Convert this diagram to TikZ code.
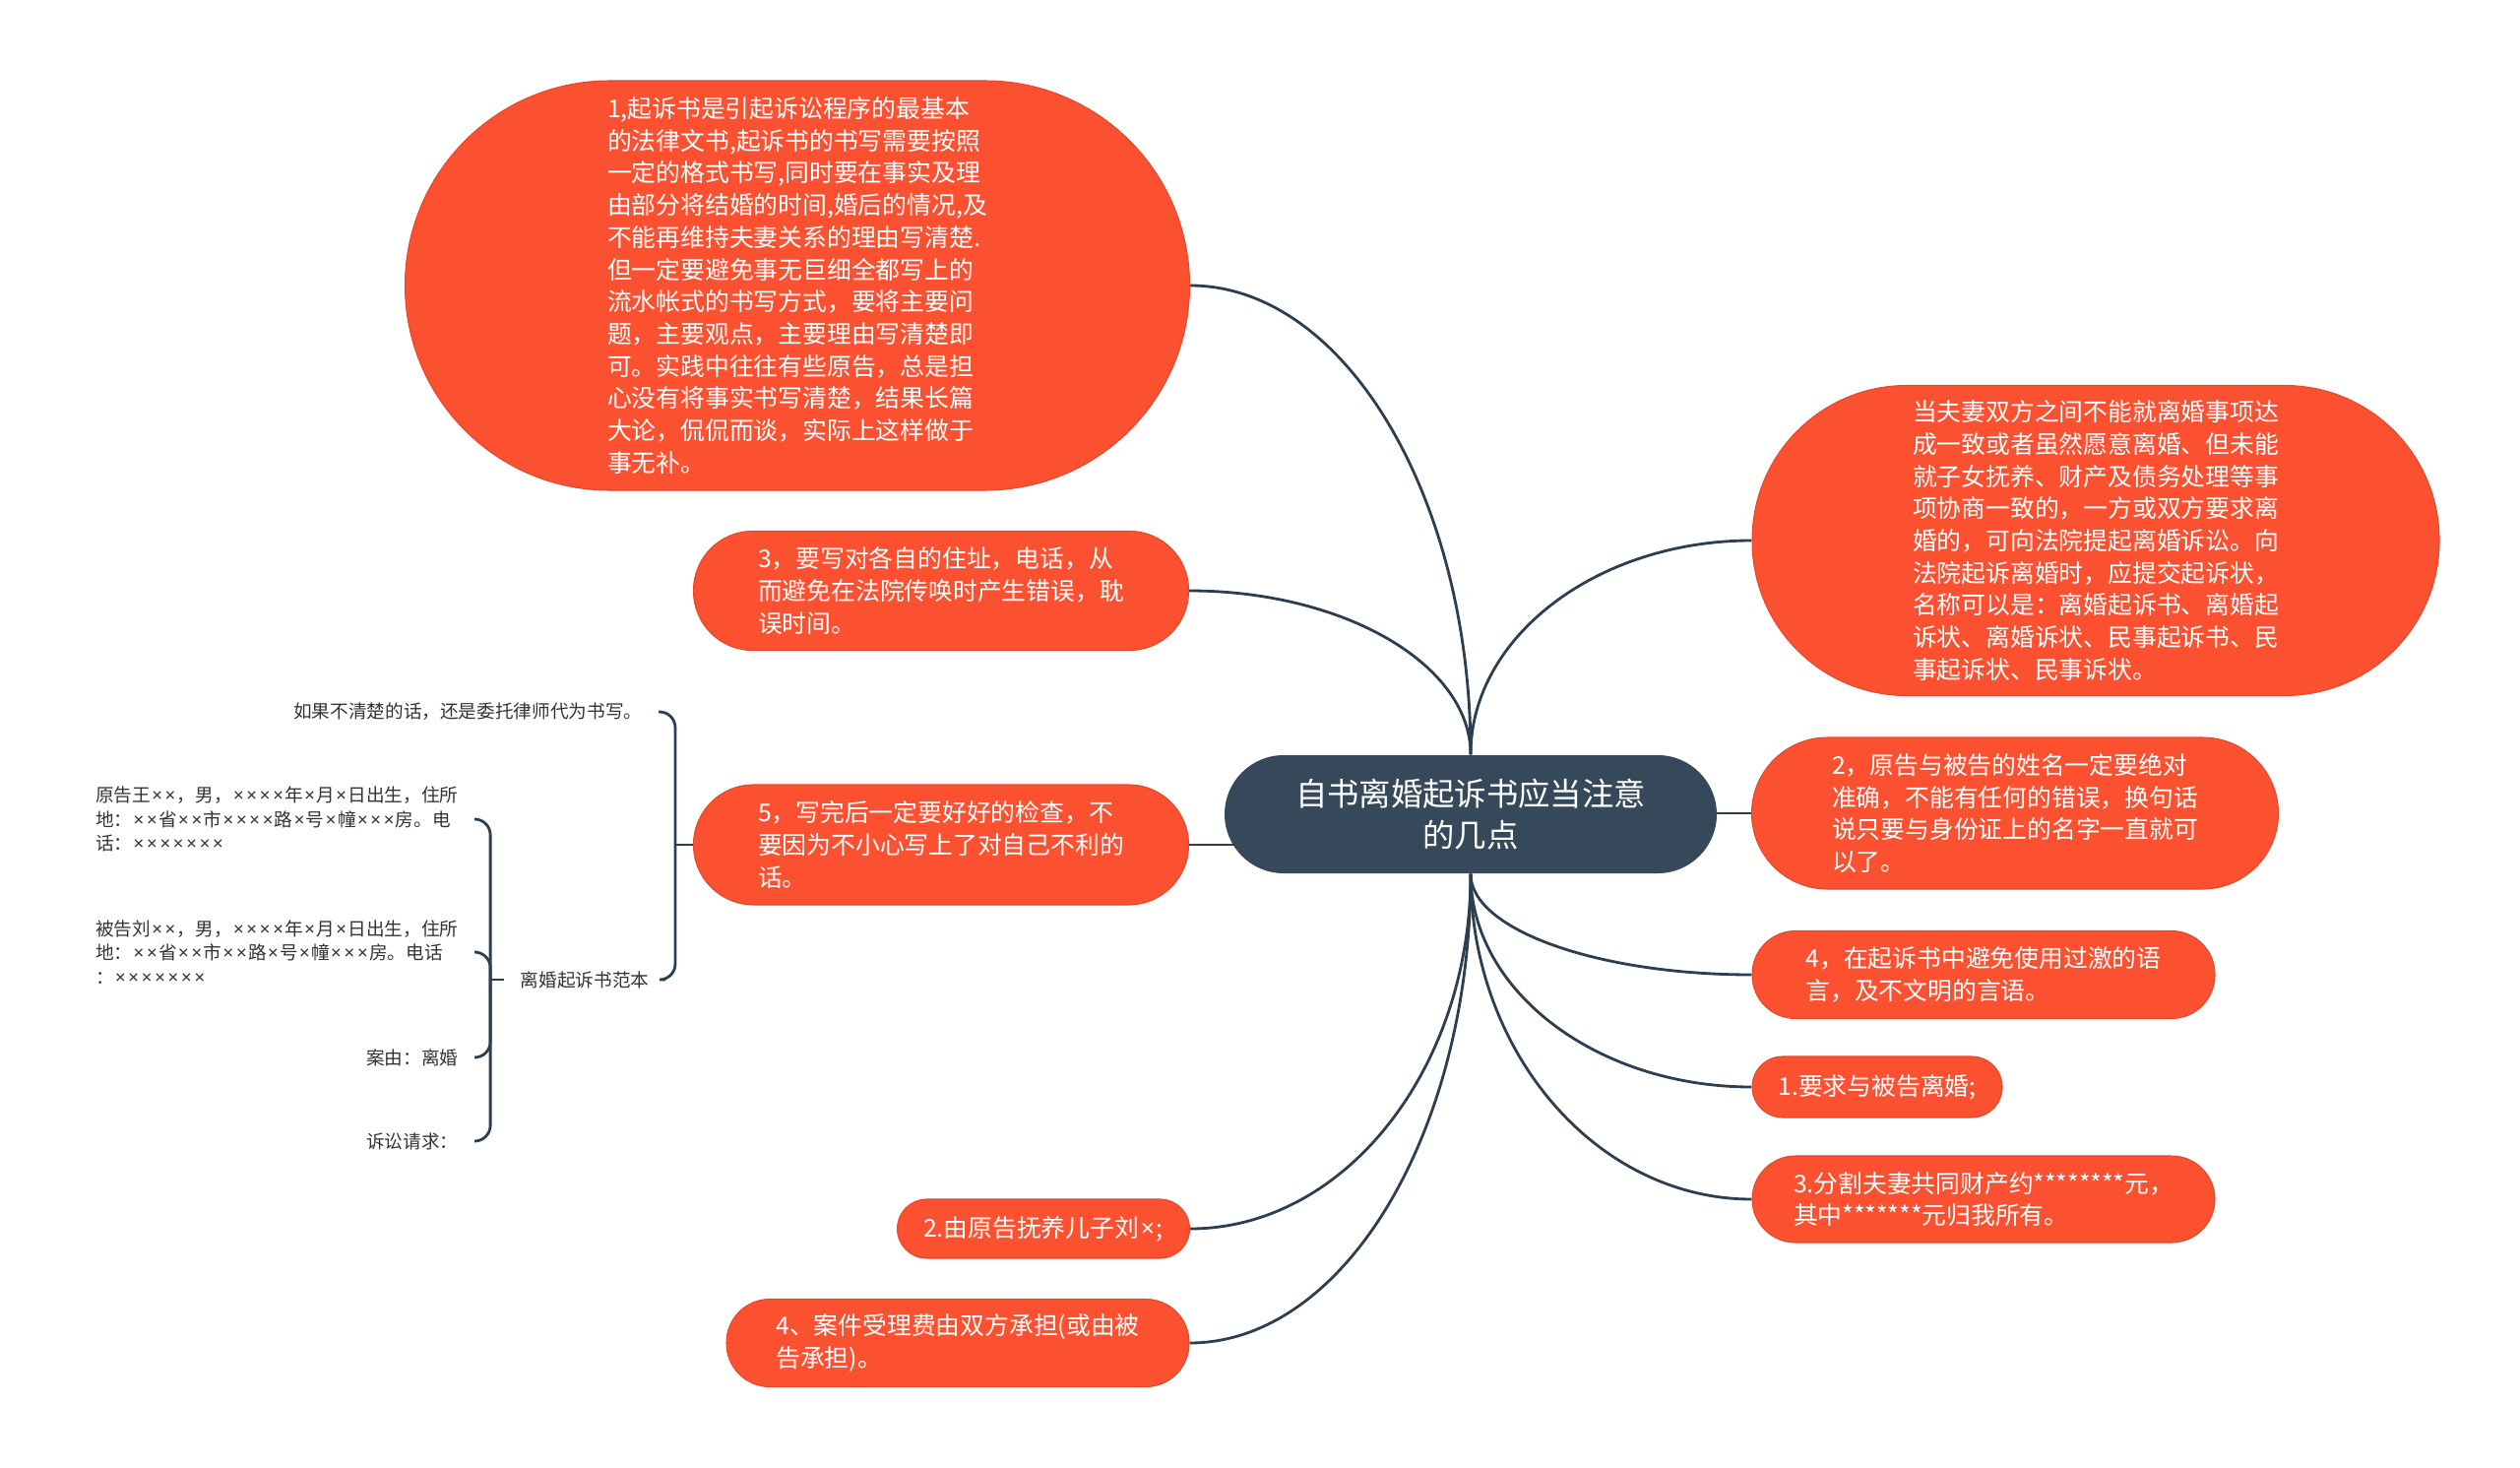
\documentclass[tikz,border=0pt]{standalone}
\usepackage{fontspec}
\setmainfont{Noto Sans CJK SC}
\newfontfamily\latinfont{Noto Sans}
\usepackage{tikz}
\usetikzlibrary{calc,positioning}
\newdimen\px
\px=0.01cm
\newcommand\tms{\hbox to .72em{\hss\latinfont ×\hss}}
\definecolor{topicfill}{HTML}{FC5130}
\definecolor{topicline}{HTML}{E4472A}
\definecolor{rootfill}{HTML}{36495B}
\definecolor{linecol}{HTML}{2C3E50}
\definecolor{leafcol}{HTML}{333333}
\pgfdeclarelayer{bg}
\pgfsetlayers{bg,main}
\tikzstyle{root}=[
  fill=rootfill,
  text=white,
  font={\fontsize{9.2pt}{12pt}\selectfont},
  align=center,
  inner sep=0pt,
  minimum width=500\px,
  minimum height=120\px,
  rounded corners=60\px,
]
\tikzstyle{topic}=[
  fill=topicfill,
  draw=topicline,
  line width=0.3pt,
  text=white,
  font={\fontsize{7.05pt}{9.3pt}\selectfont},
  align=left,
  inner sep=0pt,
]
\tikzstyle{leaf}=[
  text=leafcol,
  font={\fontsize{5.3pt}{7pt}\selectfont},
  align=left,
  anchor=east,
  inner xsep=16\px,
  inner ysep=2\px,
]
\tikzstyle{branch}=[
  draw=linecol,
  line width=0.8pt,
]
\tikzstyle{brace}=[
  draw=linecol,
  line width=0.8pt,
  rounded corners=16\px,
]
\tikzset{
  x=0.01cm,
  y=-0.01cm,
  sweep/.style={to path={.. controls ($(\tikztostart)!.55!(\tikztostart|-\tikztotarget)$)
    and ($(\tikztotarget)!.55!(\tikztostart|-\tikztotarget)$) .. (\tikztotarget)}},
}
\begin{document}
\begin{tikzpicture}
  \useasboundingbox (0,0) rectangle (2560,1491);
  \node (root) [root] at (1494,827) {自书离婚起诉书应当注意\\的几点};
  %%
  \node (law) [topic, minimum width=797\px, minimum height=416\px, rounded corners=208\px] at (810,290)
    {1,起诉书是引起诉讼程序的最基本\\的法律文书,起诉书的书写需要按照\\一定的格式书写,同时要在事实及理\\由部分将结婚的时间,婚后的情况,及\\不能再维持夫妻关系的理由写清楚.\\但一定要避免事无巨细全都写上的\\流水帐式的书写方式，要将主要问\\题，主要观点，主要理由写清楚即\\可。实践中往往有些原告，总是担\\心没有将事实书写清楚，结果长篇\\大论，侃侃而谈，实际上这样做于\\事无补。};
  \node (address) [topic, minimum width=503\px, minimum height=121\px, rounded corners=60\px] at (956,600)
    {3，要写对各自的住址，电话，从\\而避免在法院传唤时产生错误，耽\\误时间。};
  \node (check) [topic, minimum width=503\px, minimum height=122\px, rounded corners=61\px] at (956,858)
    {5，写完后一定要好好的检查，不\\要因为不小心写上了对自己不利的\\话。};
  \node (custody) [topic, minimum width=297\px, minimum height=60\px, rounded corners=30\px] at (1060,1248)
    {2.由原告抚养儿子刘\tms;};
  \node (fees) [topic, minimum width=470\px, minimum height=89\px, rounded corners=44\px] at (973,1364)
    {4、案件受理费由双方承担(或由被\\告承担)。};
  %%
  \node (when) [topic, minimum width=698\px, minimum height=315\px, rounded corners=157\px] at (2129,549)
    {当夫妻双方之间不能就离婚事项达\\成一致或者虽然愿意离婚、但未能\\就子女抚养、财产及债务处理等事\\项协商一致的，一方或双方要求离\\婚的，可向法院提起离婚诉讼。向\\法院起诉离婚时，应提交起诉状，\\名称可以是：离婚起诉书、离婚起\\诉状、离婚诉状、民事起诉书、民\\事起诉状、民事诉状。};
  \node (names) [topic, minimum width=535\px, minimum height=154\px, rounded corners=77\px] at (2047,826)
    {2，原告与被告的姓名一定要绝对\\准确，不能有任何的错误，换句话\\说只要与身份证上的名字一直就可\\以了。};
  \node (words) [topic, minimum width=470\px, minimum height=89\px, rounded corners=44\px] at (2015,990)
    {4，在起诉书中避免使用过激的语\\言，及不文明的言语。};
  \node (divorce) [topic, minimum width=254\px, minimum height=62\px, rounded corners=31\px] at (1907,1104)
    {1.要求与被告离婚;};
  \node (property) [topic, minimum width=470\px, minimum height=88\px, rounded corners=44\px] at (2015,1218)
    {3.分割夫妻共同财产约********元，\\其中*******元归我所有。};
  %%
  \node (lawyer) [leaf] at (669,723) {如果不清楚的话，还是委托律师代为书写。};
  \node (sample) [leaf] at (676,995) {离婚起诉书范本};
  \node (plaintiff) [leaf] at (482,832)
    {原告王\tms\tms，男，\tms\tms\tms\tms 年\tms 月\tms 日出生，住所\\地：\tms\tms 省\tms\tms 市\tms\tms\tms\tms 路\tms 号\tms 幢\tms\tms\tms 房。电\\话：\tms\tms\tms\tms\tms\tms\tms};
  \node (defendant) [leaf] at (482,967)
    {被告刘\tms\tms，男，\tms\tms\tms\tms 年\tms 月\tms 日出生，住所\\地：\tms\tms 省\tms\tms 市\tms\tms 路\tms 号\tms 幢\tms\tms\tms 房。电话\\：\tms\tms\tms\tms\tms\tms\tms};
  \node (cause) [leaf] at (482,1074) {案由：离婚};
  \node (claim) [leaf] at (482,1159) {诉讼请求：};
  \coordinate (S1) at ($(check.west)+(-18,0)$);
  \coordinate (S2) at ($(sample.west)+(-14,0)$);
  %%
  \begin{pgfonlayer}{bg}
    \draw [branch] (root.north) to[sweep] (law.east);
    \draw [branch] (root.north) to[sweep] (address.east);
    \draw [branch] (root.north) to[sweep] (when.west);
    \draw [branch] (check.east) -- (check.east -| root.center);
    \draw [branch] (names.west) -- (names.west -| root.center);
    \draw [branch] (root.south) to[sweep] (words.west);
    \draw [branch] (root.south) to[sweep] (divorce.west);
    \draw [branch] (root.south) to[sweep] (property.west);
    \draw [branch] (root.south) to[sweep] (custody.east);
    \draw [branch] (root.south) to[sweep] (fees.east);
  \end{pgfonlayer}
  %%
  \draw [brace] (check.west) -- (S1);
  \draw [brace] (lawyer.east) -| (S1) |- (sample.east);
  \draw [brace] (sample.west) -- (S2);
  \draw [brace] (plaintiff.east) -| (S2) |- (claim.east);
  \draw [brace] (defendant.east) -| (S2);
  \draw [brace] (cause.east) -| (S2);
\end{tikzpicture}
\end{document}
